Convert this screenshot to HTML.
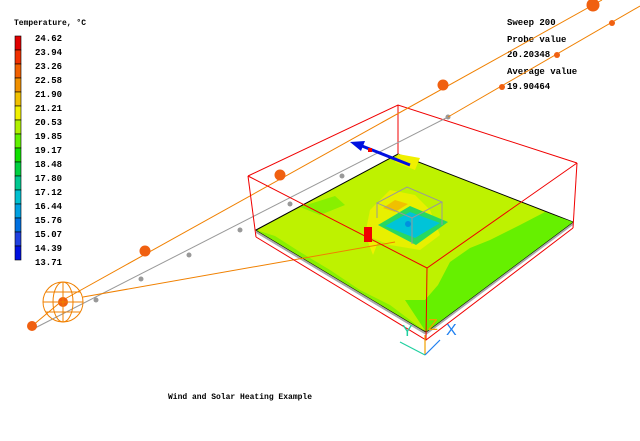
<!DOCTYPE html>
<html><head><meta charset="utf-8"><style>
html,body{margin:0;padding:0;background:#fff;}
svg{display:block;}
.t{font-family:"Liberation Mono",monospace;font-size:9px;font-weight:bold;fill:#000;}
.ax{font-family:"Liberation Sans",sans-serif;font-size:16px;}
</style></head><body>
<svg width="640" height="441" viewBox="0 0 640 441" xmlns="http://www.w3.org/2000/svg">
<!-- legend -->
<text class="t" x="14" y="25" style="font-size:8px">Temperature, °C</text>
<g stroke="#000" stroke-width="0.6">
<rect x="15" y="36" width="6" height="14" fill="#e00000"/>
<rect x="15" y="50" width="6" height="14" fill="#f03000"/>
<rect x="15" y="64" width="6" height="14" fill="#f06000"/>
<rect x="15" y="78" width="6" height="14" fill="#f09000"/>
<rect x="15" y="92" width="6" height="14" fill="#f0c000"/>
<rect x="15" y="106" width="6" height="14" fill="#f0f000"/>
<rect x="15" y="120" width="6" height="14" fill="#b0f000"/>
<rect x="15" y="134" width="6" height="14" fill="#60f000"/>
<rect x="15" y="148" width="6" height="14" fill="#10e000"/>
<rect x="15" y="162" width="6" height="14" fill="#00d040"/>
<rect x="15" y="176" width="6" height="14" fill="#00c890"/>
<rect x="15" y="190" width="6" height="14" fill="#00c0d0"/>
<rect x="15" y="204" width="6" height="14" fill="#00a0e0"/>
<rect x="15" y="218" width="6" height="14" fill="#0070e0"/>
<rect x="15" y="232" width="6" height="14" fill="#2040e0"/>
<rect x="15" y="246" width="6" height="14" fill="#0010e0"/>
</g>
<g class="t">
<text class="t" x="35" y="41">24.62</text><text class="t" x="35" y="55">23.94</text><text class="t" x="35" y="69">23.26</text>
<text class="t" x="35" y="83">22.58</text><text class="t" x="35" y="97">21.90</text><text class="t" x="35" y="111">21.21</text>
<text class="t" x="35" y="125">20.53</text><text class="t" x="35" y="139">19.85</text><text class="t" x="35" y="153">19.17</text>
<text class="t" x="35" y="167">18.48</text><text class="t" x="35" y="181">17.80</text><text class="t" x="35" y="195">17.12</text>
<text class="t" x="35" y="209">16.44</text><text class="t" x="35" y="223">15.76</text><text class="t" x="35" y="237">15.07</text>
<text class="t" x="35" y="251">14.39</text><text class="t" x="35" y="265">13.71</text>
</g>
<!-- right text -->
<text class="t" x="507" y="25">Sweep 200</text>
<text class="t" x="507" y="42">Probe value</text>
<text class="t" x="507" y="57">20.20348</text>
<text class="t" x="507" y="74">Average value</text>
<text class="t" x="507" y="89">19.90464</text>
<text class="t" x="168" y="399" style="font-size:8px">Wind and Solar Heating Example</text>

<!-- back box edges -->
<g stroke="#f00000" stroke-width="1" fill="none">
<polyline points="248,176 398,105 577,163"/>
<line x1="398" y1="105" x2="398" y2="154"/>
</g>
<!-- plate side -->
<polygon points="256,230 426,332 573,222 573,225 426,335 256,233" fill="#aaa"/>
<!-- plate -->
<polygon points="256,230 398,154 573,222 426,332" fill="#bef200" stroke="#000" stroke-width="1"/>
<!-- green areas -->
<polygon points="426,332 573,222 545,212 520,225 490,240 470,248 450,262 438,285 425,300 405,300" fill="#66f000"/>
<polygon points="256,230 275,236 300,252 330,270 360,290 390,305 426,332" fill="#88f000"/>
<polygon points="300,207 335,196 345,205 320,215" fill="#88f000"/>
<polygon points="398,154 420,158 415,170 395,162" fill="#f0f000"/>
<!-- central area -->
<polygon points="370,210 390,190 415,195 430,210 440,235 420,250 390,245 365,235" fill="#e8f000"/>
<polygon points="383,208 395,200 408,204 395,212" fill="#f0c000"/>
<polygon points="378,225 410,206 448,222 416,245" fill="#28d860"/>
<polygon points="385,226 410,212 440,223 415,238" fill="#00c4d8"/>
<circle cx="408" cy="224" r="3" fill="#0090e0"/>
<polygon points="368,242 378,242 373,255" fill="#f0f000"/>
<!-- inner grey box -->
<g stroke="#999" stroke-width="1" fill="none">
<polygon points="377,203 407,187 442,202 412,218"/>
<line x1="377" y1="203" x2="377" y2="218"/>
<line x1="442" y1="202" x2="442" y2="225"/>
<line x1="412" y1="218" x2="412" y2="244"/>
</g>
<!-- gray line -->
<line x1="35" y1="328" x2="448" y2="117" stroke="#999" stroke-width="1"/>
<g fill="#999"><circle cx="96" cy="300" r="2.5"/><circle cx="141" cy="279" r="2.5"/><circle cx="189" cy="255" r="2.5"/><circle cx="240" cy="230" r="2.5"/><circle cx="290" cy="204" r="2.5"/><circle cx="342" cy="176" r="2.5"/><circle cx="448" cy="117" r="2.5"/></g>
<!-- orange lines -->
<g stroke="#f08000" stroke-width="1" fill="none">
<line x1="63" y1="300" x2="602" y2="0"/>
<line x1="448" y1="117" x2="640" y2="6"/>
<line x1="32" y1="326" x2="63" y2="300"/>
<line x1="83" y1="297" x2="395" y2="242"/>
</g>
<!-- spheres -->
<g fill="#f06010">
<circle cx="145" cy="251" r="5.5"/><circle cx="280" cy="175" r="5.5"/><circle cx="443" cy="85" r="5.5"/><circle cx="593" cy="5" r="6.5"/>
<circle cx="502" cy="87" r="3"/><circle cx="557" cy="55" r="3"/><circle cx="612" cy="23" r="3"/>
<circle cx="32" cy="326" r="5"/><circle cx="63" cy="302" r="5"/>
</g>
<g stroke="#f08000" stroke-width="1" fill="none">
<circle cx="63" cy="302" r="20"/>
<ellipse cx="63" cy="302" rx="10" ry="20"/>
<line x1="43" y1="302" x2="83" y2="302"/>
<line x1="46" y1="292" x2="80" y2="292"/><line x1="46" y1="312" x2="80" y2="312"/>
<line x1="63" y1="282" x2="63" y2="322"/>
</g>
<!-- probe -->
<rect x="364" y="227" width="8" height="15" fill="#f00000"/>
<!-- wind arrow -->
<line x1="410" y1="165" x2="362" y2="146" stroke="#0010e0" stroke-width="3"/>
<polygon points="350,142 365,141 361,151" fill="#0010e0"/>
<rect x="368" y="148" width="4" height="4" fill="#f00000"/>
<!-- front box edges -->
<g stroke="#f00000" stroke-width="1" fill="none">
<polyline points="248,176 427,268 577,163"/>
<line x1="248" y1="176" x2="256" y2="237"/>
<line x1="577" y1="163" x2="573" y2="228"/>
<line x1="427" y1="268" x2="426" y2="340"/>
<polyline points="256,237 426,340 573,228"/>
</g>
<!-- axes -->
<g stroke-width="1.2" fill="none">
<line x1="425" y1="335" x2="425" y2="355" stroke="#f0a000"/>
<line x1="425" y1="355" x2="400" y2="342" stroke="#20d0a0"/>
<line x1="425" y1="355" x2="440" y2="340" stroke="#2080f0"/>
</g>
<text class="ax" x="402" y="336" fill="#20d0a0">Y</text>
<text class="ax" x="428" y="330" fill="#f0a000">Z</text>
<text class="ax" x="446" y="335" fill="#2080f0">X</text>
</svg>
</body></html>
